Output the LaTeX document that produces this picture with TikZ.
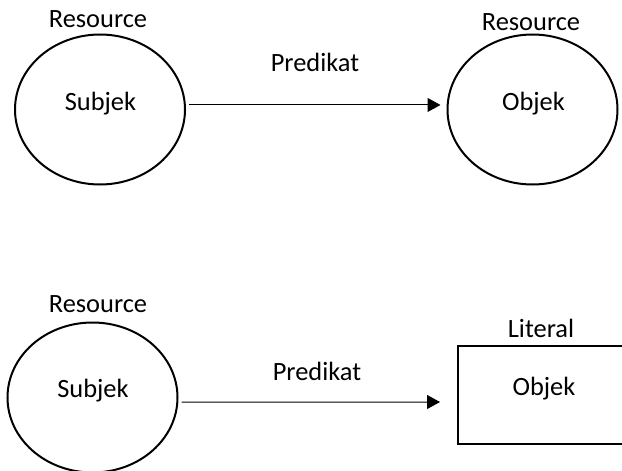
\documentclass[tikz,border=0pt]{standalone}
\usepackage{fontspec}
\setmainfont{Carlito}
\usetikzlibrary{shapes.geometric,arrows.meta}

\tikzset{every picture/.style={line width=0.75pt}}
\tikzset{
  resnode/.style={draw, ellipse, line width=1.5pt, minimum width=127.5pt, minimum height=112.5pt, inner sep=0pt},
  litnode/.style={draw, rectangle, line width=1.5pt, minimum width=136.5pt, minimum height=73.5pt, inner sep=0pt},
  lbl/.style={anchor=base, inner sep=0pt, font=\fontsize{19.8}{24}\selectfont},
  predarrow/.style={-{Triangle[length=9.75pt,width=10.5pt]}, line width=0.75pt}
}

\begin{document}
\begin{tikzpicture}[x=0.75pt,y=0.75pt,yscale=-1,xscale=1]
	\useasboundingbox (0,0) rectangle (622,471);
	\clip (0,0) rectangle (622,471);

	%Shapes: Ellipse
	\node[resnode] (subjA) at (100,109.5) {};
	%Shapes: Ellipse
	\node[resnode] (objA) at (532.5,109.5) {};
	%Shapes: Ellipse
	\node[resnode] (subjB) at (92.5,397.5) {};
	%Shapes: Rectangle
	\node[litnode] (objB) at (549,395) {};

	%Straight Lines
	\draw[predarrow, shorten <=2.25pt, shorten >=4.5pt] ([yshift=-3.4pt]subjA.east) -- ([yshift=-3.4pt]objA.west);
	%Straight Lines
	\draw[predarrow, shorten <=2.25pt, shorten >=12.75pt] ([yshift=3.4pt]subjB.east) -- ([yshift=5.25pt]objB.west);

	% Text Node
	\node[lbl] (resA) at (98,27) {Resource};
	% Text Node
	\node[lbl] (predA) at (315,71) {Predikat};
	% Text Node
	\node[lbl] (resC) at (531,31) {Resource};
	% Text Node
	\node[lbl] (subjAtxt) at (100.5,110) {Subjek};
	% Text Node
	\node[lbl] (objAtxt) at (533.5,110) {Objek};
	% Text Node
	\node[lbl] (resB) at (98,312) {Resource};
	% Text Node
	\node[lbl] (subjBtxt) at (93,397) {Subjek};
	% Text Node
	\node[lbl] (predB) at (317,380) {Predikat};
	% Text Node
	\node[lbl] (litB) at (541,337) {Literal};
	% Text Node
	\node[lbl] (objBtxt) at (544,395) {Objek};

\end{tikzpicture}
\end{document}
